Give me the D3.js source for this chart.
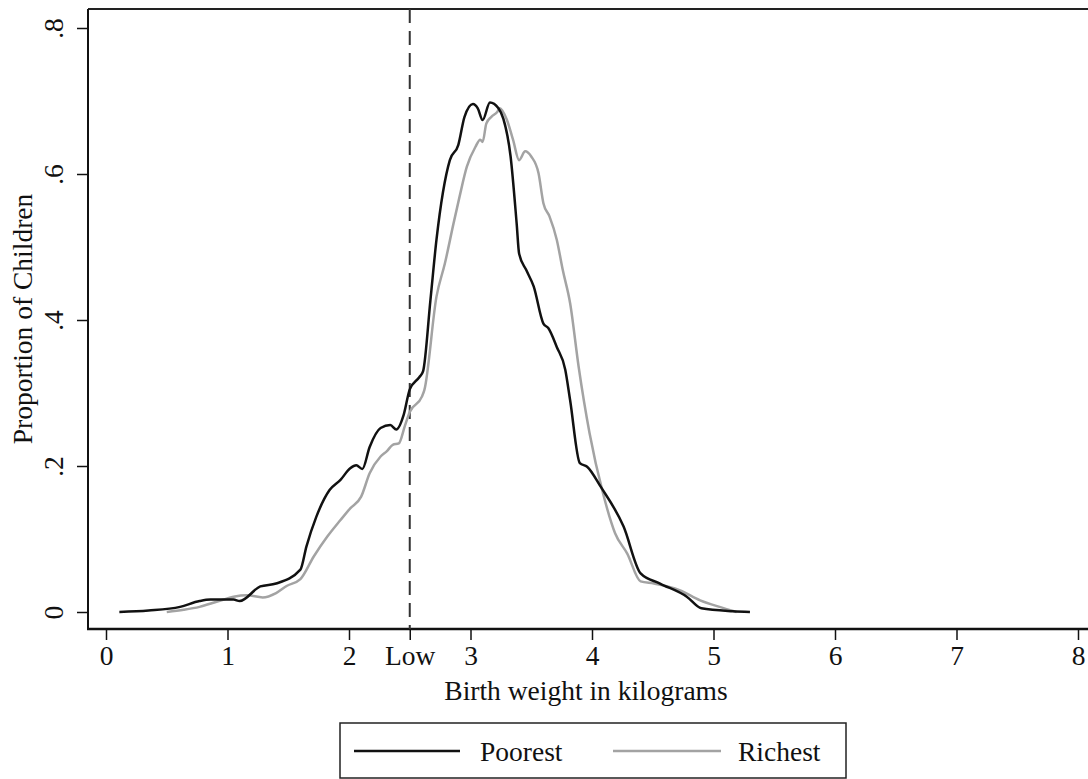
<!DOCTYPE html>
<html>
<head>
<meta charset="utf-8">
<script src="https://cdn.jsdelivr.net/npm/d3@7"></script>
<style>
  body { margin: 0; background: #fff; }
  svg { display: block; }
  text { font-family: "Liberation Serif", "Times New Roman", serif; fill: #111; }
</style>
</head>
<body>
<svg id="chart" width="1088" height="779"></svg>
<script>
// ---- Data ----
const seriesNames = ["Poorest", "Richest"];
const xTicks = [0, 1, 2, 2.5, 3, 4, 5, 6, 7, 8];
const xTickLabels = ["0", "1", "2", "Low", "3", "4", "5", "6", "7", "8"];
const yTicks = [0, 0.2, 0.4, 0.6, 0.8];
const yTickLabels = ["0", ".2", ".4", ".6", ".8"];
const lowBirthWeight = 2.5;

const poorestX = [0.11, 0.35, 0.61, 0.77, 0.86, 1.05, 1.10, 1.27, 1.40, 1.60, 1.65, 1.73, 1.84, 1.93, 2.01, 2.06, 2.11, 2.17, 2.26, 2.34, 2.39, 2.45, 2.50, 2.58, 2.61, 2.67, 2.72, 2.83, 2.90, 2.95, 3.02, 3.06, 3.10, 3.16, 3.23, 3.27, 3.33, 3.38, 3.40, 3.46, 3.52, 3.60, 3.64, 3.71, 3.78, 3.82, 3.90, 3.96, 4.07, 4.26, 4.40, 4.56, 4.78, 4.90, 5.16, 5.30];
const poorestY = [0.000, 0.002, 0.007, 0.015, 0.017, 0.017, 0.015, 0.035, 0.039, 0.058, 0.090, 0.130, 0.167, 0.181, 0.197, 0.201, 0.196, 0.226, 0.252, 0.256, 0.250, 0.270, 0.305, 0.322, 0.330, 0.427, 0.510, 0.619, 0.640, 0.678, 0.696, 0.690, 0.674, 0.698, 0.690, 0.676, 0.624, 0.532, 0.491, 0.468, 0.446, 0.395, 0.389, 0.363, 0.332, 0.290, 0.204, 0.199, 0.172, 0.117, 0.053, 0.039, 0.021, 0.005, 0.001, 0.000];

const richestX = [0.50, 0.64, 0.77, 0.91, 1.05, 1.16, 1.29, 1.40, 1.49, 1.60, 1.71, 1.82, 1.93, 2.01, 2.10, 2.17, 2.26, 2.31, 2.36, 2.41, 2.46, 2.50, 2.60, 2.62, 2.72, 2.79, 2.86, 2.91, 2.97, 3.04, 3.08, 3.10, 3.13, 3.17, 3.22, 3.24, 3.30, 3.35, 3.40, 3.45, 3.50, 3.56, 3.60, 3.65, 3.71, 3.76, 3.82, 3.89, 3.98, 4.09, 4.19, 4.29, 4.40, 4.51, 4.72, 4.89, 5.05, 5.19];
const richestY = [0.000, 0.003, 0.007, 0.014, 0.021, 0.023, 0.020, 0.026, 0.036, 0.045, 0.076, 0.103, 0.126, 0.142, 0.158, 0.190, 0.213, 0.220, 0.229, 0.231, 0.255, 0.274, 0.295, 0.304, 0.432, 0.478, 0.532, 0.569, 0.610, 0.637, 0.647, 0.644, 0.669, 0.678, 0.685, 0.690, 0.674, 0.647, 0.619, 0.631, 0.624, 0.601, 0.560, 0.542, 0.510, 0.468, 0.423, 0.336, 0.245, 0.163, 0.108, 0.080, 0.042, 0.039, 0.030, 0.016, 0.007, 0.000];

const yTitle = "Proportion of Children";
const xTitle = "Birth weight in kilograms";

// ---- Drawing ----
const svg = d3.select("#chart");
const frame = { left: 88, top: 9, right: 1088, bottom: 629 };
const FS = 27.5;

const x = d3.scaleLinear().domain([0, 8]).range([106, 1078]);
const y = d3.scaleLinear().domain([0, 0.8]).range([612, 28]);

// frame top line
svg.append("line").attr("x1", frame.left).attr("x2", frame.right)
  .attr("y1", frame.top).attr("y2", frame.top)
  .attr("stroke", "#222").attr("stroke-width", 2);

// X axis
const xAxis = d3.axisBottom(x).tickValues(xTicks).tickSize(11).tickPadding(5)
  .tickFormat((d, i) => xTickLabels[i]);
const gx = svg.append("g").attr("transform", `translate(0,${frame.bottom})`).call(xAxis);
gx.select(".domain").remove();
gx.append("line").attr("x1", frame.left - 1).attr("x2", frame.right)
  .attr("stroke", "#111").attr("stroke-width", 2.5);
gx.selectAll(".tick line").attr("stroke", "#111").attr("stroke-width", 1.5);
gx.selectAll(".tick text").attr("font-size", FS).attr("font-family", "Liberation Serif").attr("fill", "#111");

// Y axis
const yAxis = d3.axisLeft(y).tickValues(yTicks).tickSize(11).tickPadding(0)
  .tickFormat((d, i) => yTickLabels[i]);
const gy = svg.append("g").attr("transform", `translate(${frame.left},0)`).call(yAxis);
gy.select(".domain").remove();
gy.append("line").attr("y1", frame.top).attr("y2", frame.bottom)
  .attr("stroke", "#111").attr("stroke-width", 2);
gy.selectAll(".tick line").attr("stroke", "#111").attr("stroke-width", 1.5);
gy.selectAll(".tick text")
  .attr("x", null).attr("dy", null)
  .attr("transform", "translate(-25,0) rotate(-90)")
  .attr("text-anchor", "middle")
  .attr("y", 0)
  .attr("font-size", FS).attr("font-family", "Liberation Serif").attr("fill", "#111");

// Low birth weight reference line
svg.append("line")
  .attr("x1", x(lowBirthWeight)).attr("x2", x(lowBirthWeight))
  .attr("y1", frame.top).attr("y2", frame.bottom)
  .attr("stroke", "#333").attr("stroke-width", 2)
  .attr("stroke-dasharray", "14,8");

// Curves
const line = d3.line().x(d => x(d[0])).y(d => y(d[1])).curve(d3.curveMonotoneX);
const poorest = poorestX.map((v, i) => [v, poorestY[i]]);
const richest = richestX.map((v, i) => [v, richestY[i]]);

svg.append("path").datum(richest).attr("d", line)
  .attr("fill", "none").attr("stroke", "#a3a3a3").attr("stroke-width", 2.5)
  .attr("stroke-linejoin", "round");
svg.append("path").datum(poorest).attr("d", line)
  .attr("fill", "none").attr("stroke", "#111").attr("stroke-width", 2.5)
  .attr("stroke-linejoin", "round");

// Axis titles
svg.append("text").attr("transform", `translate(32,${(frame.top + frame.bottom) / 2}) rotate(-90)`)
  .attr("text-anchor", "middle").attr("font-size", FS).text(yTitle);
svg.append("text").attr("x", (frame.left + frame.right) / 2 - 2).attr("y", 700)
  .attr("text-anchor", "middle").attr("font-size", FS).text(xTitle);

// Legend
const lg = svg.append("g");
lg.append("rect").attr("x", 340).attr("y", 723).attr("width", 506).attr("height", 55)
  .attr("fill", "#fff").attr("stroke", "#222").attr("stroke-width", 1.5);
const legendItems = [
  { name: seriesNames[0], color: "#111", x0: 354, x1: 460, tx: 480 },
  { name: seriesNames[1], color: "#a3a3a3", x0: 613, x1: 721, tx: 738 }
];
legendItems.forEach(it => {
  lg.append("line").attr("x1", it.x0).attr("x2", it.x1).attr("y1", 751).attr("y2", 751)
    .attr("stroke", it.color).attr("stroke-width", 2.5);
  lg.append("text").attr("x", it.tx).attr("y", 761).attr("font-size", FS).text(it.name);
});
</script>
</body>
</html>
